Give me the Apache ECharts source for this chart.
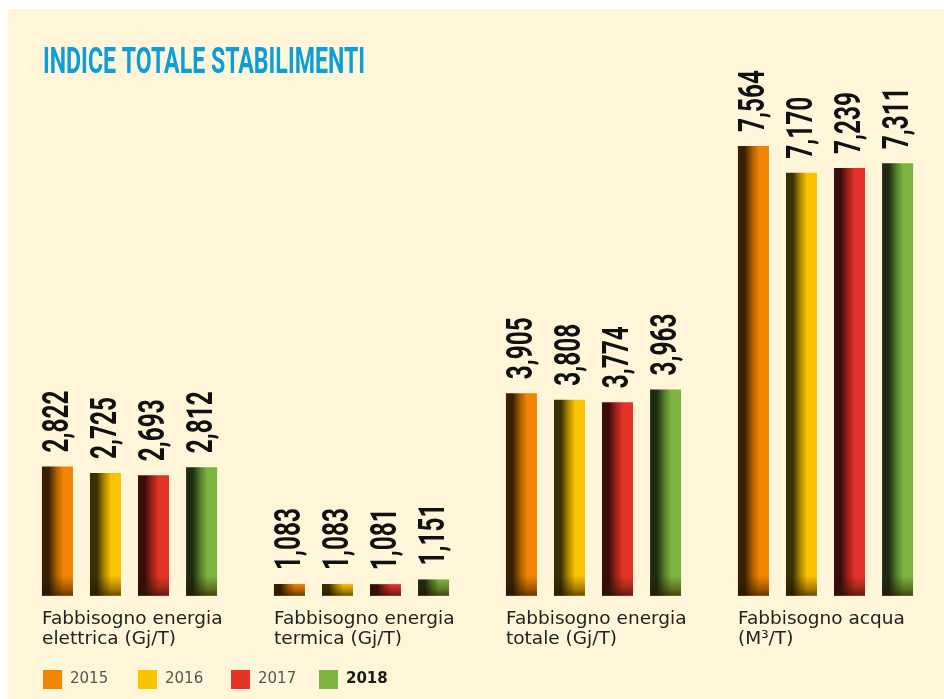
<!DOCTYPE html>
<html><head><meta charset="utf-8">
<script src="https://cdn.jsdelivr.net/npm/echarts@6/dist/echarts.min.js"></script>
<style>html,body{margin:0;padding:0;background:#fff}#c{width:944px;height:699px}</style>
</head><body><div id="c"></div>
<script>
const categories = ['Fabbisogno energia\nelettrica (Gj/T)', 'Fabbisogno energia\ntermica (Gj/T)', 'Fabbisogno energia\ntotale (Gj/T)', 'Fabbisogno acqua\n(M³/T)'];
const years = ['2015', '2016', '2017', '2018'];
const v2015 = [2.822, 1.083, 3.905, 7.564];
const v2016 = [2.725, 1.083, 3.808, 7.170];
const v2017 = [2.693, 1.081, 3.774, 7.239];
const v2018 = [2.812, 1.151, 3.963, 7.311];
const titleText = 'INDICE TOTALE STABILIMENTI';

const values = [v2015, v2016, v2017, v2018];
const bright = ['#f08300', '#fcc300', '#e6332a', '#7db43f'];
const dark = ['#3a2000', '#3a3000', '#3a0c0a', '#1d2c12'];
const mid = ['#a65b00', '#a88400', '#9e2119', '#4f7a28'];
const numFont = "bold 36px Roboto, 'DejaVu Sans', sans-serif";
const titleFont = "bold 37px Roboto, 'DejaVu Sans', sans-serif";
const textFont = "'DejaVu Sans', sans-serif";

const ctx = document.createElement('canvas').getContext('2d');
ctx.font = numFont;
const labelScale = 62 / ctx.measureText('2,822').width;
ctx.font = titleFont;
ctx.textBaseline = 'middle';
const tm = ctx.measureText(titleText);
const titleScale = 322 / tm.width;
const titleY = 47 + tm.actualBoundingBoxAscent;

function grad(i) {
  return new echarts.graphic.LinearGradient(0, 0, 1, 0, [
    {offset: 0, color: dark[i]}, {offset: 0.22, color: dark[i]},
    {offset: 0.45, color: mid[i]}, {offset: 0.68, color: bright[i]}, {offset: 1, color: bright[i]}
  ]);
}

const fmt = v => v.toFixed(3).replace('.', ',');

const chart = echarts.init(document.getElementById('c'), null, {renderer: 'canvas'});
const legendLefts = [43, 138, 231, 319];
const barSeries = years.map((y, i) => ({
  name: y, type: 'bar', data: values[i], barWidth: 31, barGap: '55%',
  itemStyle: {color: grad(i)}
}));
const labelSeries = years.map((y, i) => ({
  name: 'lbl' + y, type: 'custom', z: 5,
  data: values[i].map((v, k) => [k, v]),
  encode: {x: 0, y: 1},
  renderItem: (params, api) => {
    const pt = api.coord([api.value(0), api.value(1)]);
    const cx = pt[0] + (i - 1.5) * 48;
    const base = params.coordSys.y + params.coordSys.height;
    const sh = Math.min(20, base - pt[1]);
    return {
      type: 'group',
      children: [
        {
          type: 'rect', shape: {x: cx - 15.5, y: base - sh, width: 31, height: sh},
          style: {fill: new echarts.graphic.LinearGradient(0, 0, 0, 1, [
            {offset: 0, color: 'rgba(40,20,0,0)'}, {offset: 0.6, color: 'rgba(40,20,0,0.35)'}, {offset: 1, color: 'rgba(40,20,0,0.7)'}
          ])}
        },
        {
          type: 'text', x: cx + 1, y: pt[1] - 14,
          rotation: Math.PI / 2, scaleX: labelScale,
          style: {text: fmt(api.value(1)), font: numFont, fill: '#111', align: 'left', verticalAlign: 'middle'}
        }
      ]
    };
  }
}));

chart.setOption({
  backgroundColor: '#fff',
  animation: false,
  graphic: [
    {type: 'rect', z: -10, shape: {x: 8, y: 9, width: 936, height: 690}, style: {fill: '#fff6d9'}, silent: true},
    {type: 'text', x: 43, y: titleY, scaleX: titleScale, style: {text: titleText, fill: '#0a9edb', font: titleFont, verticalAlign: 'middle', align: 'left'}}
  ],
  legend: years.map((y, i) => ({
    left: legendLefts[i], top: 670, padding: 0, itemWidth: 19, itemHeight: 19, icon: 'rect',
    data: [{name: y, itemStyle: {color: bright[i]}, textStyle: i === 3 ? {fontWeight: 'bold', color: '#1a1a1a'} : {}}],
    textStyle: {fontFamily: textFont, fontSize: 15, color: '#555', padding: [0, 0, 0, 3]}
  })),
  grid: {left: 13.5, right: 2.5, top: 116.6, bottom: 103.3},
  xAxis: {
    type: 'category', data: categories,
    axisLine: {show: false}, axisTick: {show: false},
    axisLabel: {
      margin: 14, interval: 0,
      formatter: v => v.split('\n').map(s => '{a|' + s + '}').join('\n'),
      rich: {a: {width: 175, align: 'left', fontFamily: textFont, fontSize: 18.5, color: '#222', lineHeight: 19.5}}
    }
  },
  yAxis: {type: 'value', min: 0.91, max: 8, show: false, splitLine: {show: false}},
  series: barSeries.concat(labelSeries)
});
</script></body></html>
